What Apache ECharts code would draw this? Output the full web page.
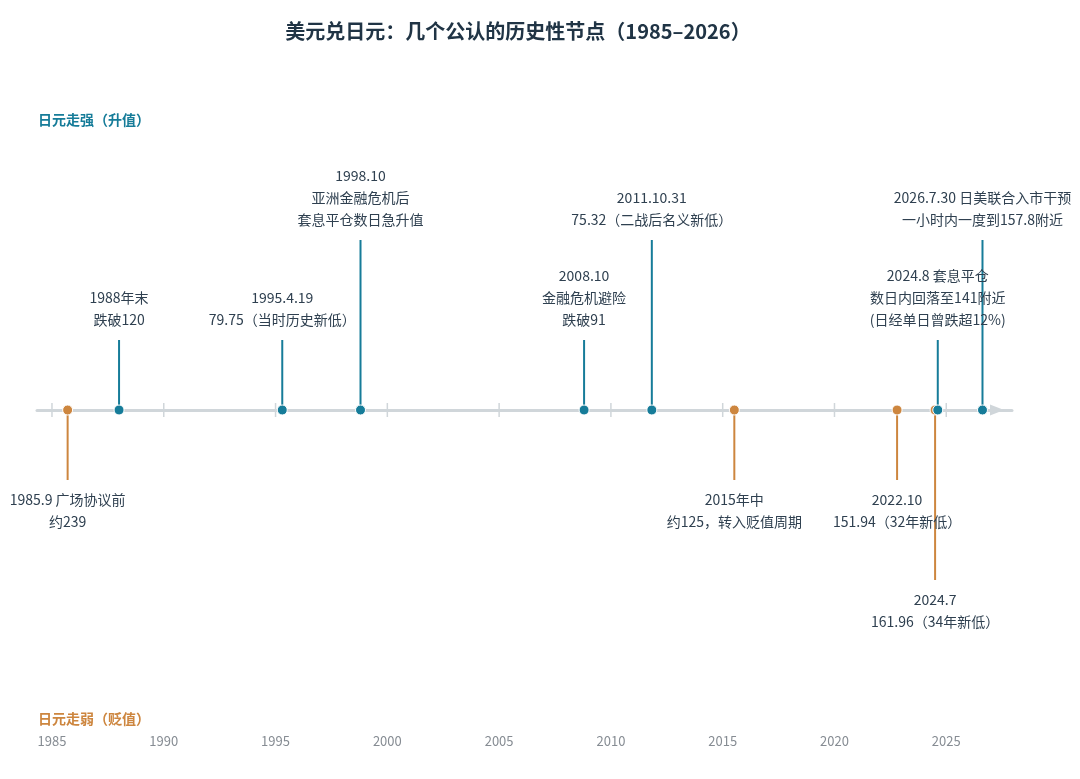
<!DOCTYPE html>
<html>
<head>
    <meta charset="utf-8">
    <title>USD/JPY timeline</title>
    <script src="https://cdn.jsdelivr.net/npm/echarts@6/dist/echarts.min.js"></script>
    <style>
        html, body { margin: 0; padding: 0; background: #fff; }
    </style>
</head>
<body>
    <div id="main" style="width: 1080px; height: 779px;"></div>

    <script type="text/javascript">
        // event positions on the time axis (fractional year)
        var eventYears = [1985.7, 1988.0, 1995.3, 1998.8, 2008.8, 2011.83, 2015.52, 2022.8, 2024.5, 2024.62, 2026.62];
        // 'up' = yen strengthening, 'down' = yen weakening
        var eventSide = ['down', 'up', 'up', 'up', 'up', 'up', 'down', 'down', 'down', 'up', 'up'];
        var eventText = [
            '1985.9 广场协议前\n约239',
            '1988年末\n跌破120',
            '1995.4.19\n79.75（当时历史新低）',
            '1998.10\n亚洲金融危机后\n套息平仓数日急升值',
            '2008.10\n金融危机避险\n跌破91',
            '2011.10.31\n75.32（二战后名义新低）',
            '2015年中\n约125，转入贬值周期',
            '2022.10\n151.94（32年新低）',
            '2024.7\n161.96（34年新低）',
            '2024.8 套息平仓\n数日内回落至141附近\n(日经单日曾跌超12%)',
            '2026.7.30 日美联合入市干预\n一小时内一度到157.8附近'
        ];
        var tickYears = [1985, 1990, 1995, 2000, 2005, 2010, 2015, 2020, 2025];

        // layout only: which stem length each event uses
        var stemTier = [1, 1, 1, 2, 1, 2, 1, 1, 2, 1, 2];
        var tierLen = { 1: 70, 2: 170 };

        var TEAL = '#167c99';
        var ORANGE = '#cd863f';
        var FONT = 'Noto Sans CJK SC';

        var stems = eventYears.map(function (yr, i) {
            var up = eventSide[i] === 'up';
            var len = tierLen[stemTier[i]] * (up ? 1 : -1);
            return {
                value: [yr, len],
                itemStyle: { color: up ? TEAL : ORANGE },
                label: {
                    position: up ? 'top' : 'bottom',
                    formatter: eventText[i]
                }
            };
        });

        var dots = eventYears.map(function (yr, i) {
            return {
                value: [yr, 0],
                itemStyle: { color: eventSide[i] === 'up' ? TEAL : ORANGE }
            };
        });

        var ticks = tickYears.map(function (yr) { return [yr, 0]; });

        var chart = echarts.init(document.getElementById('main'));
        chart.setOption({
            backgroundColor: '#ffffff',
            animation: false,
            textStyle: { fontFamily: FONT },
            graphic: [
                {
                    type: 'text', x: 518, y: 31,
                    style: {
                        text: '美元兑日元：几个公认的历史性节点（1985–2026）',
                        textAlign: 'center', textVerticalAlign: 'middle',
                        fontSize: 20, fontWeight: 'bold', fontFamily: FONT,
                        fill: '#203445'
                    }
                },
                {
                    type: 'text', x: 38, y: 120,
                    style: {
                        text: '日元走强（升值）',
                        textVerticalAlign: 'middle',
                        fontSize: 14, fontWeight: 'bold', fontFamily: FONT,
                        fill: TEAL
                    }
                },
                {
                    type: 'text', x: 38, y: 719,
                    style: {
                        text: '日元走弱（贬值）',
                        textVerticalAlign: 'middle',
                        fontSize: 14, fontWeight: 'bold', fontFamily: FONT,
                        fill: ORANGE
                    }
                }
            ],
            grid: { left: 37, right: 68, top: 90, bottom: 49 },
            xAxis: [
                {
                    type: 'value',
                    min: 1984.33,
                    max: 2027.94,
                    position: 'bottom',
                    axisLine: { show: false, onZero: false },
                    axisTick: { show: false },
                    splitLine: { show: false },
                    axisLabel: {
                        customValues: tickYears,
                        formatter: function (v) { return String(v); },
                        color: '#868c93',
                        fontSize: 13,
                        margin: 5,
                        fontFamily: FONT
                    }
                },
                {
                    type: 'value',
                    min: 1984.33,
                    max: 2027.94,
                    position: 'bottom',
                    axisLine: {
                        show: true,
                        onZero: true,
                        symbol: ['none', 'triangle'],
                        symbolSize: [11, 14],
                        symbolOffset: [0, -15],
                        lineStyle: { color: '#d0d6da', width: 3 }
                    },
                    axisTick: { show: false },
                    axisLabel: { show: false },
                    splitLine: { show: false }
                }
            ],
            yAxis: {
                type: 'value',
                min: -320,
                max: 320,
                show: false
            },
            series: [
                {
                    type: 'scatter',
                    xAxisIndex: 1,
                    data: ticks,
                    symbol: 'rect',
                    symbolSize: [1.5, 14],
                    itemStyle: { color: '#d0d6da', opacity: 1 },
                    silent: true,
                    z: 1
                },
                {
                    type: 'bar',
                    xAxisIndex: 1,
                    data: stems,
                    barWidth: 2,
                    label: {
                        show: true,
                        distance: 9,
                        color: '#2f4050',
                        fontSize: 14,
                        lineHeight: 22,
                        align: 'center',
                        fontFamily: FONT
                    },
                    z: 2
                },
                {
                    type: 'scatter',
                    xAxisIndex: 1,
                    data: dots,
                    symbolSize: 10,
                    itemStyle: { borderColor: '#ffffff', borderWidth: 1, opacity: 1 },
                    z: 3
                }
            ]
        });
    </script>
</body>
</html>
